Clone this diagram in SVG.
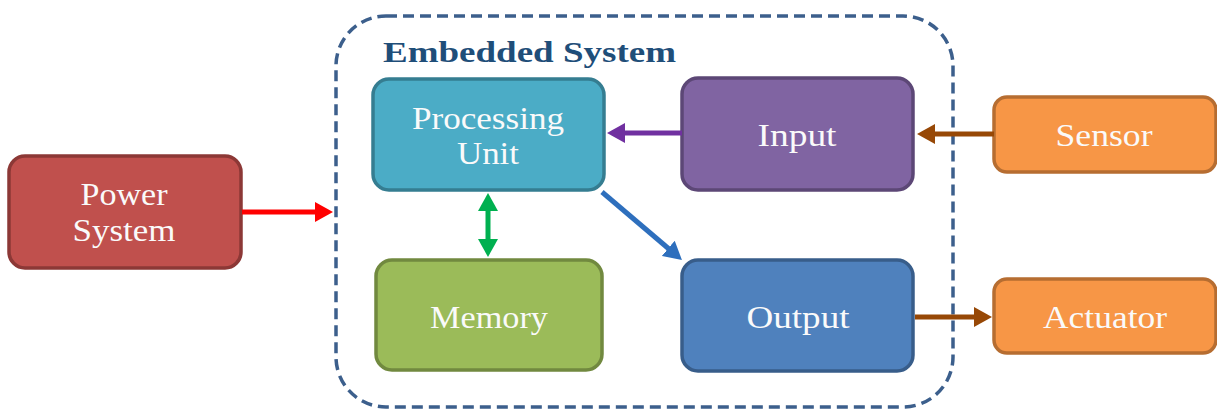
<svg xmlns="http://www.w3.org/2000/svg" width="1217" height="410" viewBox="0 0 1217 410">
<defs>
<style>
.box{stroke-width:3.5}
.lbl{font-family:"Liberation Serif","Times New Roman",serif;font-size:32px;fill:#fafafa;text-anchor:middle}
.title{font-family:"Liberation Serif","Times New Roman",serif;font-size:30px;font-weight:bold;fill:#1f4e79}
.conn{fill:none;stroke-width:5}
</style>
<marker id="ah-red" viewBox="0 0 18 20" refX="1" refY="10" markerWidth="18" markerHeight="20" markerUnits="userSpaceOnUse" orient="auto-start-reverse"><path d="M0,0 L18,10 L0,20 z" fill="#ff0000"/></marker>
<marker id="ah-purple" viewBox="0 0 18 20" refX="1" refY="10" markerWidth="18" markerHeight="20" markerUnits="userSpaceOnUse" orient="auto-start-reverse"><path d="M0,0 L18,10 L0,20 z" fill="#7030a0"/></marker>
<marker id="ah-brown" viewBox="0 0 18 20" refX="1" refY="10" markerWidth="18" markerHeight="20" markerUnits="userSpaceOnUse" orient="auto-start-reverse"><path d="M0,0 L18,10 L0,20 z" fill="#974806"/></marker>
<marker id="ah-green" viewBox="0 0 18 20" refX="1" refY="10" markerWidth="18" markerHeight="20" markerUnits="userSpaceOnUse" orient="auto-start-reverse"><path d="M0,0 L18,10 L0,20 z" fill="#00b050"/></marker>
<marker id="ah-blue" viewBox="0 0 18 20" refX="1" refY="10" markerWidth="18" markerHeight="20" markerUnits="userSpaceOnUse" orient="auto-start-reverse"><path d="M0,0 L18,10 L0,20 z" fill="#2e6fbd"/></marker>
</defs>
<rect width="1217" height="410" fill="#ffffff"/>

<g id="embedded-system">
<rect x="336" y="16" width="617" height="391" rx="50" fill="none" stroke="#3c5f8c" stroke-width="3.5" stroke-dasharray="11,6"/>
<text class="title" x="383" y="62" textLength="293" lengthAdjust="spacingAndGlyphs">Embedded System</text>
</g>

<g id="power-system">
<rect class="box" x="9" y="156" width="232" height="112" rx="16" fill="#c0504d" stroke="#8c3836"/>
<text class="lbl" x="124" y="205" textLength="87" lengthAdjust="spacingAndGlyphs">Power</text>
<text class="lbl" x="124" y="241" textLength="103" lengthAdjust="spacingAndGlyphs">System</text>
</g>

<g id="processing-unit">
<rect class="box" x="373" y="79" width="231" height="111" rx="16" fill="#4bacc6" stroke="#357d91"/>
<text class="lbl" x="488" y="129" textLength="152" lengthAdjust="spacingAndGlyphs">Processing</text>
<text class="lbl" x="488" y="164" textLength="62" lengthAdjust="spacingAndGlyphs">Unit</text>
</g>

<g id="input">
<rect class="box" x="682" y="78" width="231" height="112" rx="16" fill="#8064a2" stroke="#5c4776"/>
<text class="lbl" x="797" y="146" textLength="79" lengthAdjust="spacingAndGlyphs">Input</text>
</g>

<g id="memory">
<rect class="box" x="376" y="260" width="226" height="110" rx="16" fill="#9bbb59" stroke="#71893f"/>
<text class="lbl" x="489" y="328" textLength="118" lengthAdjust="spacingAndGlyphs">Memory</text>
</g>

<g id="output">
<rect class="box" x="682" y="260" width="231" height="111" rx="16" fill="#4f81bd" stroke="#385d8a"/>
<text class="lbl" x="798" y="328" textLength="103" lengthAdjust="spacingAndGlyphs">Output</text>
</g>

<g id="sensor">
<rect class="box" x="994" y="97" width="222" height="75" rx="13" fill="#f79646" stroke="#b66d31"/>
<text class="lbl" x="1104" y="146" textLength="97" lengthAdjust="spacingAndGlyphs">Sensor</text>
</g>

<g id="actuator">
<rect class="box" x="994" y="279" width="222" height="74" rx="13" fill="#f79646" stroke="#b66d31"/>
<text class="lbl" x="1105" y="328" textLength="124" lengthAdjust="spacingAndGlyphs">Actuator</text>
</g>

<g id="connectors">
<path class="conn" d="M242,212 L316,212" stroke="#ff0000" marker-end="url(#ah-red)"/>
<path class="conn" d="M682,133 L624,133" stroke="#7030a0" marker-end="url(#ah-purple)"/>
<path class="conn" d="M994,134 L934,134" stroke="#974806" marker-end="url(#ah-brown)"/>
<path class="conn" d="M915,317 L975,317" stroke="#974806" marker-end="url(#ah-brown)"/>
<path class="conn" d="M488,210 L488,240" stroke="#00b050" marker-start="url(#ah-green)" marker-end="url(#ah-green)"/>
<path class="conn" d="M602,192 L669,249" stroke="#2e6fbd" marker-end="url(#ah-blue)"/>
</g>
</svg>
